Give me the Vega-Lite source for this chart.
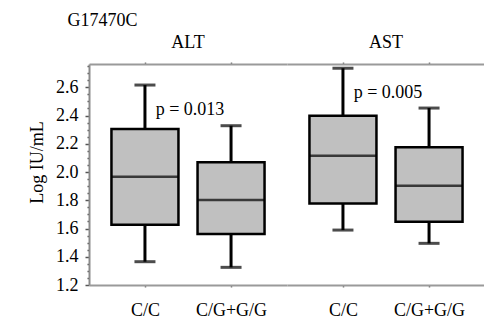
{
  "$schema": "https://vega.github.io/schema/vega-lite/v6.json",
  "padding": {"left": 28, "top": 12, "right": 0, "bottom": 0},
  "background": "white",
  "title": {"text": "G17470C", "anchor": "start", "frame": "bounds", "font": "Liberation Serif", "fontSize": 18, "fontWeight": "normal", "color": "black", "dx": 39, "offset": 4},
  "data": {"values": [
    {"test": "ALT", "genotype": "C/C", "lower": 1.365, "q1": 1.627, "median": 1.967, "q3": 2.305, "upper": 2.616, "p": "p = 0.013"},
    {"test": "ALT", "genotype": "C/G+G/G", "lower": 1.325, "q1": 1.561, "median": 1.802, "q3": 2.069, "upper": 2.328, "p": null},
    {"test": "AST", "genotype": "C/C", "lower": 1.589, "q1": 1.778, "median": 2.116, "q3": 2.399, "upper": 2.735, "p": "p = 0.005"},
    {"test": "AST", "genotype": "C/G+G/G", "lower": 1.495, "q1": 1.648, "median": 1.903, "q3": 2.175, "upper": 2.453, "p": null}
  ]},
  "facet": {"column": {"field": "test", "type": "nominal", "sort": ["ALT", "AST"], "header": {"title": null, "labelFont": "Liberation Serif", "labelFontSize": 18, "labelColor": "black", "labelPadding": 9}}},
  "spacing": 0,
  "spec": {
    "width": 198,
    "height": 221,
    "layer": [
      {
        "mark": {"type": "rule", "color": "black", "strokeWidth": 3},
        "encoding": {
          "x": {"field": "genotype", "type": "nominal", "sort": ["C/C", "C/G+G/G"], "scale": {"type": "point", "padding": 0.65},
                "axis": {"orient": "top", "labels": false, "title": null, "domainColor": "#9a9a9a", "domainWidth": 2, "tickSize": 2, "tickColor": "#777777", "tickWidth": 1.5}},
          "y": {"field": "lower", "type": "quantitative", "scale": {"domain": [1.2, 2.765], "nice": false, "zero": false}, "title": "Log IU/mL"},
          "y2": {"field": "upper"}
        }
      },
      {
        "mark": {"type": "bar", "fill": "#c0c0c0", "stroke": "black", "strokeWidth": 2.5, "size": 67},
        "encoding": {
          "x": {"field": "genotype", "type": "nominal", "sort": ["C/C", "C/G+G/G"],
                "axis": {"orient": "bottom", "title": null, "labelAngle": 0, "labelPadding": 14, "domainColor": "#9a9a9a", "domainWidth": 2, "tickSize": 2, "tickColor": "#777777", "tickWidth": 1.5}},
          "y": {"field": "q1", "type": "quantitative", "title": "Log IU/mL"},
          "y2": {"field": "q3"}
        }
      },
      {
        "mark": {"type": "tick", "color": "black", "size": 67, "thickness": 2.5},
        "encoding": {
          "x": {"field": "genotype", "type": "nominal", "sort": ["C/C", "C/G+G/G"], "axis": null},
          "y": {"field": "median", "type": "quantitative", "title": "Log IU/mL"}
        }
      },
      {
        "mark": {"type": "tick", "color": "black", "size": 21, "thickness": 3},
        "encoding": {
          "x": {"field": "genotype", "type": "nominal", "sort": ["C/C", "C/G+G/G"], "axis": null},
          "y": {"field": "upper", "type": "quantitative", "title": "Log IU/mL"}
        }
      },
      {
        "mark": {"type": "tick", "color": "black", "size": 21, "thickness": 3},
        "encoding": {
          "x": {"field": "genotype", "type": "nominal", "sort": ["C/C", "C/G+G/G"], "axis": null},
          "y": {"field": "lower", "type": "quantitative", "title": "Log IU/mL"}
        }
      },
      {
        "transform": [{"filter": "datum.p != null"}],
        "mark": {"type": "text", "align": "center", "baseline": "middle", "dx": 45, "dy": 25, "font": "Liberation Serif", "fontSize": 18, "color": "black"},
        "encoding": {
          "x": {"field": "genotype", "type": "nominal", "sort": ["C/C", "C/G+G/G"], "axis": null},
          "y": {"field": "upper", "type": "quantitative", "title": "Log IU/mL"},
          "text": {"field": "p"}
        }
      }
    ],
    "resolve": {"axis": {"x": "independent"}}
  },
  "config": {
    "view": {"stroke": null},
    "font": "Liberation Serif",
    "axis": {"labelFont": "Liberation Serif", "labelFontSize": 18, "labelColor": "black", "titleFont": "Liberation Serif", "titleFontSize": 18, "titleFontWeight": "normal", "titleColor": "black"},
    "axisY": {
      "titlePadding": 9, "titleY": 98, "grid": false, "domainColor": "#8a8a8a", "domainWidth": 2,
      "tickCount": 32,
      "labelExpr": "abs(datum.value*5 - round(datum.value*5)) < 0.01 ? format(datum.value, '.1f') : ''",
      "labelOverlap": false, "labelFlush": false, "labelPadding": 7,
      "tickColor": "#555555", "tickWidth": 1.5,
      "tickSize": {"condition": {"test": "abs(datum.value*5 - round(datum.value*5)) < 0.01", "value": 4}, "value": 2}
    },
    "title": {"font": "Liberation Serif", "fontWeight": "normal"}
  }
}
